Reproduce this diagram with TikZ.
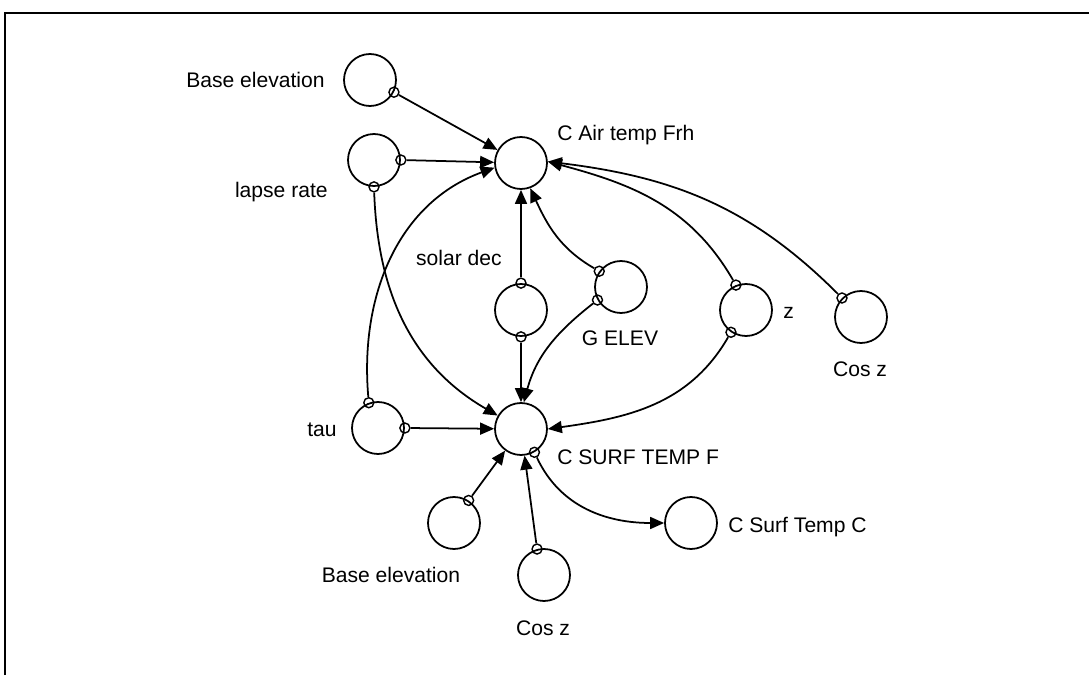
\documentclass[tikz,border=0pt]{standalone}
\usepackage{fontspec}
\setmainfont{Liberation Sans}
\usetikzlibrary{arrows.meta}

\tikzset{
	var/.style={circle, draw, line width=1pt, minimum size=1.04cm, inner sep=0pt},
	tap/.style={circle, draw, line width=0.8pt, minimum size=0.2cm, inner sep=0pt},
	link/.style={line width=1pt, -{Triangle[length=2.8mm,width=2.4mm]}},
	lbl/.style={font=\large, inner sep=0pt}
}

\begin{document}
\begin{tikzpicture}
	\useasboundingbox (0,0) rectangle (21.78,13.50);
	%frame
	\draw[line width=1.6pt] (0.10,0) -- (0.10,13.24) -- (21.78,13.24);
	
	%variables
	\node[var] (baseA) at (7.40,11.90) {};
	\node[var] (lapse) at (7.48,10.30) {};
	\node[var] (cair) at (10.42,10.24) {};
	\node[var] (solar) at (10.42,7.30) {};
	\node[var] (gelev) at (12.42,7.76) {};
	\node[var] (zz) at (14.92,7.30) {};
	\node[var] (cosA) at (17.22,7.16) {};
	\node[var] (tau) at (7.56,4.94) {};
	\node[var] (csurf) at (10.42,4.92) {};
	\node[var] (baseB) at (9.08,3.04) {};
	\node[var] (cosB) at (10.88,2.00) {};
	\node[var] (csurfc) at (13.82,3.04) {};
	
	%labels
	\node[lbl, anchor=east] (l-baseA) at (6.50,11.90) {Base elevation};
	\node[lbl, anchor=east] (l-lapse) at (6.56,9.66) {lapse rate};
	\node[lbl, anchor=west] (l-cair) at (11.14,10.80) {C Air temp Frh};
	\node[lbl, anchor=east] (l-solar) at (10.04,8.34) {solar dec};
	\node[lbl] (l-gelev) at (12.40,6.74) {G ELEV};
	\node[lbl, anchor=west] (l-zz) at (15.66,7.24) {z};
	\node[lbl] (l-cosA) at (17.20,6.12) {Cos z};
	\node[lbl, anchor=east] (l-tau) at (6.74,4.90) {tau};
	\node[lbl, anchor=west] (l-csurf) at (11.14,4.36) {C SURF TEMP F};
	\node[lbl] (l-baseB) at (7.82,2.00) {Base elevation};
	\node[lbl] (l-cosB) at (10.86,0.94) {Cos z};
	\node[lbl, anchor=west] (l-csurfc) at (14.56,2.96) {C Surf Temp C};
	
	%taps
	\node[tap] (t-baseA) at (baseA.-27) {};
	\node[tap] (t-lapseE) at (lapse.0) {};
	\node[tap] (t-lapseS) at (lapse.-90) {};
	\node[tap] (t-tauN) at (tau.110) {};
	\node[tap] (t-tauE) at (tau.0) {};
	\node[tap] (t-solarN) at (solar.90) {};
	\node[tap] (t-solarS) at (solar.-90) {};
	\node[tap] (t-gelevN) at (gelev.144) {};
	\node[tap] (t-gelevS) at (gelev.-151) {};
	\node[tap] (t-zzN) at (zz.112) {};
	\node[tap] (t-zzS) at (zz.-124) {};
	\node[tap] (t-cosA) at (cosA.135) {};
	\node[tap] (t-csurf) at (csurf.-60) {};
	\node[tap] (t-baseB) at (baseB.57) {};
	\node[tap] (t-cosB) at (cosB.105) {};
	
	%connectors into C Air temp Frh
	\draw[link] (t-baseA) -- (cair);
	\draw[link] (t-lapseE) -- (cair);
	\draw[link] (t-tauN) to[out=95,in=200] (cair.190);
	\draw[link] (t-solarN) -- (cair);
	\draw[link] (t-gelevN) to[out=150,in=-65] (cair.-70);
	\draw[link] (t-zzN) to[out=120,in=-15] (cair.3);
	\draw[link] (t-cosA) to[out=135,in=-7] (cair.3);
	
	%connectors into C SURF TEMP F
	\draw[link] (t-lapseS) to[out=-88,in=150] (csurf.150);
	\draw[link] (t-tauE) -- (csurf);
	\draw[link] (t-solarS) -- (csurf);
	\draw[link] (t-gelevS) to[out=-142,in=75] (csurf.84);
	\draw[link] (t-zzS) to[out=-120,in=8] (csurf.0);
	\draw[link] (t-baseB) -- (csurf);
	\draw[link] (t-cosB) -- (csurf);
	
	%output
	\draw[link] (t-csurf) to[out=-65,in=180] (csurfc.west);
\end{tikzpicture}
\end{document}
